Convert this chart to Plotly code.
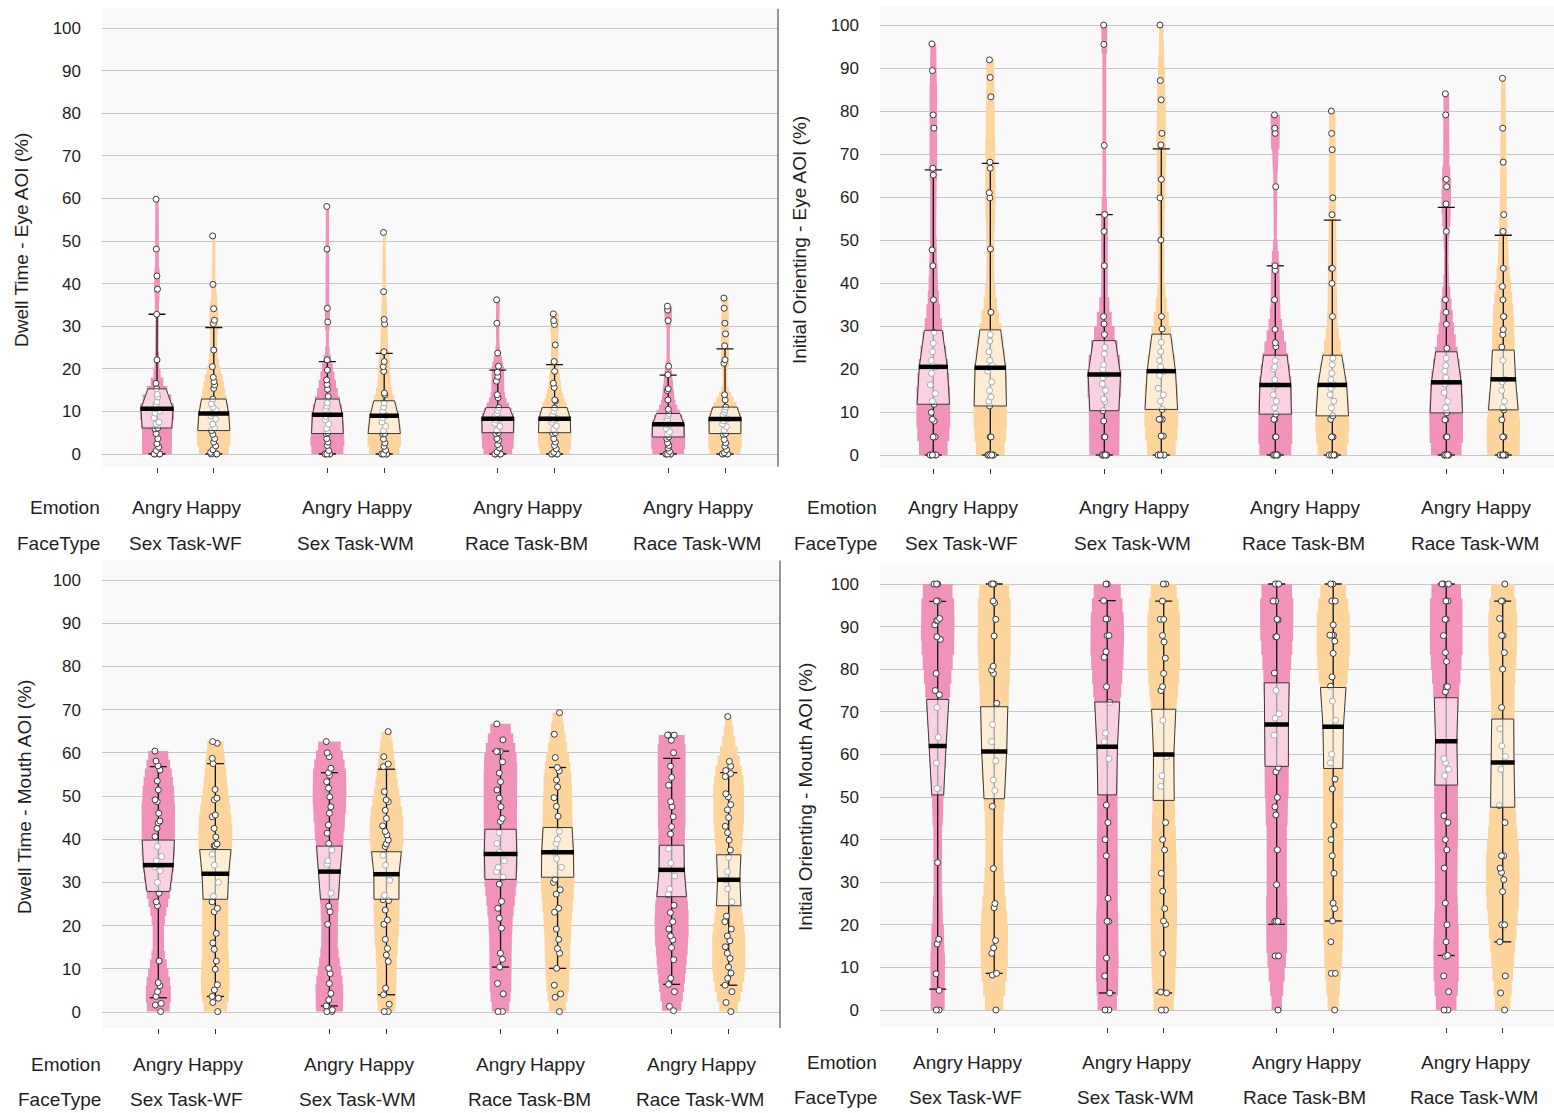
import numpy as np
import plotly.graph_objects as go

W, H = 1554, 1113

EMOTIONS = ["Angry", "Happy"]
FACE_TYPES = ["Sex Task-WF", "Sex Task-WM", "Race Task-BM", "Race Task-WM"]

# ---------------- Dwell Time - Eye AOI (%) ----------------
dwell_eye_angry_sex_wf = [59.8, 48.1, 41.8, 38.7, 32.8, 22.1, 16.6, 15.3, 14.0, 13.4, 12.2, 11.5, 10.8, 10.6, 10.2,
                          9.6, 8.5, 7.5, 7.0, 6.1, 5.9, 4.8, 3.6, 2.4, 1.6, 0.8, 0, 0, 0, 0]
dwell_eye_happy_sex_wf = [51.2, 39.8, 34.1, 31.4, 30.6, 24.4, 20.5, 18.0, 17.0, 16.2, 15.4, 12.9, 11.8, 11.0, 10.2,
                          9.5, 9.0, 8.2, 7.0, 6.2, 5.5, 4.6, 3.6, 2.8, 1.9, 1.0, 0.4, 0, 0, 0]
dwell_eye_angry_sex_wm = [58.1, 48.1, 34.2, 31.0, 22.1, 19.7, 17.4, 16.3, 15.2, 13.5, 12.0, 11.2, 10.5, 9.6, 9.2,
                          8.8, 8.0, 7.0, 6.0, 5.0, 4.8, 3.6, 2.8, 2.0, 0.8, 0, 0, 0, 0, 0]
dwell_eye_happy_sex_wm = [52.0, 38.1, 31.6, 30.5, 24.0, 21.7, 20.5, 19.4, 14.3, 13.9, 12.0, 11.0, 10.0, 9.3, 9.0,
                          8.5, 7.5, 6.5, 5.5, 4.8, 4.7, 3.5, 2.6, 1.8, 0.9, 0, 0, 0, 0, 0]
dwell_eye_angry_race_bm = [36.2, 30.7, 23.7, 20.6, 19.2, 18.2, 17.1, 13.9, 13.2, 10.9, 10.2, 9.5, 9.0, 8.5, 8.3,
                           8.0, 7.2, 6.5, 5.5, 5.0, 4.8, 3.6, 3.2, 2.2, 1.4, 0.5, 0, 0, 0, 0]
dwell_eye_happy_race_bm = [32.9, 31.3, 30.4, 25.6, 21.7, 19.4, 16.6, 15.6, 12.7, 12.5, 10.8, 10.0, 9.2, 8.6, 8.3,
                           8.0, 7.4, 6.6, 5.8, 5.0, 4.8, 3.6, 2.8, 2.0, 1.2, 0.4, 0, 0, 0, 0]
dwell_eye_angry_race_wm = [34.7, 33.8, 31.3, 20.6, 18.6, 15.3, 14.9, 12.7, 10.5, 9.5, 9.0, 8.2, 7.6, 7.2, 7.0,
                           6.8, 6.0, 5.2, 4.6, 4.0, 3.6, 2.6, 2.0, 1.4, 0.6, 0, 0, 0, 0, 0]
dwell_eye_happy_race_wm = [36.6, 34.2, 30.7, 28.2, 25.4, 22.1, 21.3, 13.9, 12.7, 11.0, 10.4, 9.8, 9.2, 8.6, 8.2,
                           7.8, 7.0, 6.4, 5.6, 4.8, 4.6, 3.4, 2.6, 1.8, 1.0, 0.3, 0, 0, 0, 0]

dwell_eye_q1 = [6.1, 5.5, 4.8, 4.8, 5.0, 5.0, 4.0, 4.8]
dwell_eye_median = [10.6, 9.5, 9.2, 9.0, 8.3, 8.3, 7.0, 8.2]
dwell_eye_q3 = [15.3, 12.9, 12.9, 12.5, 10.9, 10.9, 9.5, 11.0]
dwell_eye_whisker_lo = [0, 0, 0, 0, 0, 0, 0, 0]
dwell_eye_whisker_hi = [32.8, 29.7, 21.7, 23.6, 19.7, 21.0, 18.5, 24.7]

# ---------------- Initial Orienting - Eye AOI (%) ----------------
io_eye_angry_sex_wf = [95.6, 89.4, 79.1, 76.0, 66.7, 65.1, 47.7, 44.0, 36.1, 28.5, 26.0, 24.0, 22.0, 20.8, 20.5,
                       19.0, 16.3, 14.3, 12.5, 11.8, 9.9, 8.3, 7.9, 4.2, 4.2, 0, 0, 0, 0, 0]
io_eye_happy_sex_wf = [91.9, 87.8, 83.3, 68.1, 66.7, 61.0, 59.8, 47.9, 33.2, 28.0, 26.5, 24.0, 22.0, 20.8, 20.3,
                       19.5, 17.0, 15.0, 13.5, 12.5, 11.4, 4.2, 4.2, 0, 0, 0, 0, 0, 0]
io_eye_angry_sex_wm = [100, 95.5, 72.0, 55.9, 52.0, 44.0, 32.2, 30.5, 28.0, 25.0, 23.5, 21.0, 20.0, 19.0, 18.7,
                       18.0, 16.5, 15.0, 13.0, 12.5, 10.3, 7.9, 4.2, 4.2, 0, 0, 0, 0, 0, 0]
io_eye_happy_sex_wm = [100, 87.1, 82.6, 74.8, 72.1, 64.1, 59.8, 50.0, 32.2, 29.3, 26.2, 24.0, 22.0, 20.5, 19.5,
                       18.5, 15.5, 14.0, 12.5, 10.6, 8.3, 8.3, 8.3, 4.4, 4.4, 0, 0, 0, 0, 0]
io_eye_angry_race_bm = [79.1, 76.0, 74.8, 62.4, 44.0, 42.9, 36.1, 29.2, 26.1, 25.2, 22.0, 20.5, 20.0, 17.5, 16.3,
                        16.0, 14.0, 12.5, 11.0, 9.5, 8.3, 8.3, 4.2, 4.2, 0, 0, 0, 0, 0, 0]
io_eye_happy_race_bm = [80.0, 74.8, 71.0, 59.8, 55.9, 43.4, 43.4, 39.9, 32.2, 22.5, 21.0, 19.0, 17.5, 16.5, 16.3,
                        15.5, 14.0, 12.5, 11.0, 9.1, 8.3, 4.2, 4.2, 4.2, 0, 0, 0, 0, 0, 0]
io_eye_angry_race_wm = [84.0, 79.1, 64.1, 62.4, 58.4, 52.0, 36.1, 33.2, 30.4, 24.8, 22.5, 20.8, 19.5, 18.0, 16.9,
                        16.5, 14.5, 12.5, 11.0, 9.8, 8.2, 8.2, 4.2, 4.2, 0, 0, 0, 0, 0, 0]
io_eye_happy_race_wm = [87.6, 76.0, 68.1, 55.9, 52.0, 43.4, 39.2, 36.1, 32.2, 32.2, 29.2, 28.0, 25.1, 22.0, 17.6,
                        17.0, 15.0, 12.5, 11.0, 10.5, 8.2, 4.2, 4.2, 0, 0, 0, 0, 0, 0, 0]

io_eye_q1 = [11.8, 11.4, 10.3, 10.6, 9.5, 9.1, 9.8, 10.5]
io_eye_median = [20.5, 20.3, 18.7, 19.5, 16.3, 16.3, 16.9, 17.6]
io_eye_q3 = [29.0, 29.1, 26.6, 28.1, 23.2, 23.2, 24.0, 24.4]
io_eye_whisker_lo = [0, 0, 0, 0, 0, 0, 0, 0]
io_eye_whisker_hi = [66.3, 67.8, 55.9, 71.2, 44.0, 54.6, 57.6, 51.1]

# ---------------- Dwell Time - Mouth AOI (%) ----------------
dwell_mouth_angry_sex_wf = [60.4, 58.1, 57.0, 56.0, 53.5, 51.4, 49.1, 48.7, 46.0, 44.2, 43.8, 42.5, 40.6, 38.3, 36.0,
                            35.0, 33.6, 32.7, 30.0, 27.5, 25.5, 24.6, 11.8, 6.8, 6.1, 4.7, 3.6, 2.0, 1.6, 0.1]
dwell_mouth_happy_sex_wf = [62.6, 62.2, 58.7, 57.5, 51.5, 49.5, 49.1, 45.6, 45.2, 42.5, 40.5, 38.9, 38.5, 38.5, 36.5,
                            34.0, 30.0, 26.8, 25.5, 24.0, 23.2, 18.2, 16.0, 14.5, 11.8, 9.9, 6.3, 5.1, 3.6, 3.2,
                            2.2, 0.1]
dwell_mouth_angry_sex_wm = [62.6, 60.0, 59.1, 56.4, 55.4, 54.8, 53.3, 51.8, 49.8, 47.5, 46.0, 43.3, 41.4, 39.0, 37.5,
                            35.0, 34.2, 27.5, 24.5, 23.2, 20.3, 10.1, 8.9, 6.6, 4.3, 2.8, 1.4, 0.5, 0.1, 0.1]
dwell_mouth_happy_sex_wm = [64.9, 59.1, 57.4, 56.8, 51.0, 49.1, 48.7, 46.7, 44.8, 43.1, 41.8, 41.0, 39.8, 38.9, 38.3,
                            36.3, 34.0, 30.5, 27.0, 26.0, 25.8, 23.6, 21.3, 20.3, 16.8, 14.7, 13.2, 11.7, 5.5, 4.0,
                            1.8, 0.1, 0.1]
dwell_mouth_angry_race_bm = [66.7, 63.0, 60.3, 60.3, 60.3, 57.9, 55.3, 53.3, 51.4, 49.5, 47.5, 44.8, 44.1, 41.5, 39.0,
                             37.0, 35.0, 33.5, 32.5, 31.2, 29.6, 25.6, 24.0, 21.7, 19.4, 13.6, 12.2, 10.4, 6.6, 4.2,
                             0.1, 0.1]
dwell_mouth_happy_race_bm = [69.3, 64.3, 58.9, 56.6, 55.8, 53.7, 52.1, 49.6, 47.6, 45.3, 41.8, 40.0, 39.0, 37.0, 35.5,
                             33.5, 30.7, 30.0, 28.3, 27.3, 24.0, 23.1, 19.2, 16.8, 14.7, 13.6, 10.1, 6.2, 4.2, 3.4,
                             0.1]
dwell_mouth_angry_race_wm = [64.1, 64.1, 64.1, 62.9, 60.0, 56.9, 54.3, 52.5, 48.7, 47.5, 45.2, 42.9, 41.2, 37.8, 34.5,
                             31.5, 28.5, 27.2, 24.7, 23.0, 20.9, 19.2, 17.6, 16.7, 14.9, 12.1, 7.8, 6.4, 4.7, 1.3,
                             0.3]
dwell_mouth_happy_race_wm = [68.4, 58.0, 56.9, 55.9, 55.2, 54.5, 50.5, 49.8, 48.0, 46.8, 45.0, 43.0, 41.5, 39.8, 37.5,
                             35.8, 32.5, 30.6, 28.5, 25.5, 22.2, 20.9, 19.2, 17.6, 16.5, 15.1, 13.6, 12.4, 10.4, 9.0,
                             7.8, 6.2, 4.7, 2.2, 0.1]

dwell_mouth_q1 = [27.9, 26.1, 26.1, 26.1, 30.7, 31.2, 26.7, 24.6]
dwell_mouth_median = [34.0, 32.0, 32.5, 31.9, 36.6, 37.0, 32.9, 30.6]
dwell_mouth_q3 = [39.8, 37.6, 38.4, 37.1, 42.3, 42.7, 38.6, 36.4]
dwell_mouth_whisker_lo = [3.3, 3.6, 1.4, 4.0, 10.4, 10.1, 6.4, 6.2]
dwell_mouth_whisker_hi = [56.8, 57.5, 55.4, 56.2, 60.4, 56.6, 58.7, 55.4]

# ---------------- Initial Orienting - Mouth AOI (%) ----------------
io_mouth_angry_sex_wf = [100, 100, 100, 96.0, 96.0, 91.9, 91.5, 91.4, 90.4, 87.6, 87.0, 79.0, 75.0, 74.0, 71.0,
                         64.0, 58.0, 52.0, 52.0, 34.6, 16.6, 15.5, 8.5, 4.6, 0, 0]
io_mouth_happy_sex_wf = [100, 100, 100, 96.0, 95.6, 91.7, 87.8, 80.7, 79.8, 79.0, 72.0, 67.0, 63.0, 58.5, 54.0,
                         51.5, 47.8, 33.2, 25.0, 24.0, 16.3, 14.6, 13.3, 8.6, 8.2, 0]
io_mouth_angry_sex_wm = [100, 100, 96.1, 91.8, 91.8, 87.9, 87.9, 84.1, 82.8, 75.9, 72.2, 65.0, 63.0, 59.0, 48.1,
                         44.0, 40.0, 36.2, 26.2, 20.8, 20.8, 12.2, 8.0, 4.0, 0, 0]
io_mouth_happy_sex_wm = [100, 100, 96.0, 91.7, 91.7, 87.9, 86.4, 82.6, 79.0, 75.9, 75.0, 68.0, 59.5, 55.0, 52.5,
                         44.0, 40.0, 37.6, 32.1, 27.9, 23.8, 20.9, 20.1, 13.3, 4.2, 4.0, 0, 0]
io_mouth_angry_race_bm = [100, 100, 100, 96.0, 96.0, 91.7, 91.6, 87.6, 87.6, 79.1, 75.0, 69.5, 68.5, 64.5, 56.9,
                          55.9, 49.9, 47.7, 45.8, 37.6, 29.4, 20.8, 20.8, 20.8, 12.7, 12.7, 0]
io_mouth_happy_race_bm = [100, 100, 96.0, 96.0, 90.4, 88.0, 88.0, 88.0, 86.6, 83.7, 78.2, 76.0, 72.5, 68.0, 60.0,
                          58.0, 54.2, 51.9, 43.3, 40.0, 36.2, 32.1, 25.1, 23.8, 20.9, 16.0, 8.6, 8.6, 0]
io_mouth_angry_race_wm = [100, 100, 100, 96.0, 96.0, 91.7, 91.7, 87.9, 83.9, 81.8, 75.9, 75.9, 74.7, 59.0, 58.0,
                          56.5, 55.0, 45.6, 44.0, 40.0, 37.6, 33.3, 25.1, 20.0, 16.0, 12.8, 12.6, 8.0, 4.3, 0, 0]
io_mouth_happy_race_wm = [100, 96.0, 96.0, 91.9, 87.9, 87.9, 83.9, 80.0, 71.0, 66.0, 62.0, 59.5, 56.5, 48.0, 44.0,
                          36.2, 36.2, 33.3, 32.3, 30.6, 27.8, 20.0, 20.0, 16.0, 8.0, 4.0, 0]

io_mouth_q1 = [50.5, 49.6, 50.5, 49.2, 57.2, 56.7, 52.8, 47.6]
io_mouth_median = [62.0, 60.7, 61.8, 60.0, 67.0, 66.5, 63.1, 58.1]
io_mouth_q3 = [72.9, 71.2, 72.3, 70.6, 76.8, 75.7, 73.3, 68.3]
io_mouth_whisker_lo = [4.9, 8.6, 4.0, 4.0, 20.1, 20.9, 12.8, 16.0]
io_mouth_whisker_hi = [95.9, 100, 96.1, 96.0, 100, 100, 100, 96.0]

Y_TICKS = list(range(0, 101, 10))

# ---------------- styling ----------------
FONT = "Liberation Sans, Arial, sans-serif"
TEXT = "#1e1e1e"
VIOLIN_COLORS = {"Angry": "#F092BA", "Happy": "#FCD49C"}
BOX_FILL = "rgba(255,255,255,0.58)"
BOX_LINE = "#3a3a3a"
HALF_WIDTH = 0.3      # max half-width of a violin, in category units
CAP_HALF = 0.15
BW_FACTOR = 0.6       # fraction of Silverman's bandwidth

panels = [
    dict(groups=[dwell_eye_angry_sex_wf, dwell_eye_happy_sex_wf, dwell_eye_angry_sex_wm, dwell_eye_happy_sex_wm,
                 dwell_eye_angry_race_bm, dwell_eye_happy_race_bm, dwell_eye_angry_race_wm, dwell_eye_happy_race_wm],
         q1=dwell_eye_q1, med=dwell_eye_median, q3=dwell_eye_q3,
         wlo=dwell_eye_whisker_lo, whi=dwell_eye_whisker_hi,
         title="Dwell Time - Eye AOI (%)", title_xy=(22, 240),
         px=(102, 778), first=157.0, unit=56.8, py0=454, pys=4.26, yr=(-3.0, 104.5),
         rows=(508, 543), label_right=102, border=True, axisline=False),
    dict(groups=[io_eye_angry_sex_wf, io_eye_happy_sex_wf, io_eye_angry_sex_wm, io_eye_happy_sex_wm,
                 io_eye_angry_race_bm, io_eye_happy_race_bm, io_eye_angry_race_wm, io_eye_happy_race_wm],
         q1=io_eye_q1, med=io_eye_median, q3=io_eye_q3,
         wlo=io_eye_whisker_lo, whi=io_eye_whisker_hi,
         title="Initial Orienting - Eye AOI (%)", title_xy=(800, 240),
         px=(880, 1554), first=933.3, unit=57.0, py0=455, pys=4.30, yr=(-3.0, 104.5),
         rows=(508, 543), label_right=879, border=False, axisline=False),
    dict(groups=[dwell_mouth_angry_sex_wf, dwell_mouth_happy_sex_wf, dwell_mouth_angry_sex_wm,
                 dwell_mouth_happy_sex_wm, dwell_mouth_angry_race_bm, dwell_mouth_happy_race_bm,
                 dwell_mouth_angry_race_wm, dwell_mouth_happy_race_wm],
         q1=dwell_mouth_q1, med=dwell_mouth_median, q3=dwell_mouth_q3,
         wlo=dwell_mouth_whisker_lo, whi=dwell_mouth_whisker_hi,
         title="Dwell Time - Mouth AOI (%)", title_xy=(24, 797),
         px=(102, 780), first=158.3, unit=57.04, py0=1012, pys=4.32, yr=(-3.7, 104.5),
         rows=(1064, 1099), label_right=103, border=True, axisline=True),
    dict(groups=[io_mouth_angry_sex_wf, io_mouth_happy_sex_wf, io_mouth_angry_sex_wm, io_mouth_happy_sex_wm,
                 io_mouth_angry_race_bm, io_mouth_happy_race_bm, io_mouth_angry_race_wm, io_mouth_happy_race_wm],
         q1=io_mouth_q1, med=io_mouth_median, q3=io_mouth_q3,
         wlo=io_mouth_whisker_lo, whi=io_mouth_whisker_hi,
         title="Initial Orienting - Mouth AOI (%)", title_xy=(805, 797),
         px=(880, 1554), first=937.7, unit=56.5, py0=1010, pys=4.26, yr=(-3.9, 104.5),
         rows=(1062, 1097), label_right=879, border=False, axisline=True),
]


def bandwidth(vals):
    v = np.asarray(vals, float)
    q75, q25 = np.percentile(v, [75, 25])
    s = min(v.std(ddof=1), (q75 - q25) / 1.349)
    return BW_FACTOR * 1.059 * s * len(v) ** (-0.2)


def kde(vals, y, h):
    v = np.asarray(vals, float)
    y = np.atleast_1d(np.asarray(y, float))
    return np.exp(-0.5 * ((y[:, None] - v[None, :]) / h) ** 2).sum(axis=1)


def violin_shape(vals, x0, nbins=30):
    """Stepped density outline spanning the data range, plus a width lookup."""
    lo, hi = float(min(vals)), float(max(vals))
    h = bandwidth(vals)
    edges = np.linspace(lo, hi, nbins + 1)
    centers = 0.5 * (edges[:-1] + edges[1:])
    dens = kde(vals, centers, h)
    scale = HALF_WIDTH / dens.max()
    w = np.maximum(dens * scale, 0.025)
    ys = np.repeat(edges, 2)[1:-1]
    ws = np.repeat(w, 2)
    xs = np.concatenate([x0 + ws, (x0 - ws)[::-1]])
    yy = np.concatenate([ys, ys[::-1]])

    def width_at(q):
        return float(kde(vals, q, h)[0] * scale)

    return xs, yy, width_at


fig = go.Figure()
layout = dict(
    width=W, height=H, margin=dict(l=0, r=0, t=0, b=0),
    paper_bgcolor="white", plot_bgcolor="#F9F9F9",
    showlegend=False, boxmode="overlay",
    font=dict(family=FONT, color=TEXT),
)
annotations = []
shapes = []

for k, p in enumerate(panels):
    n = k + 1
    xa = "x" if n == 1 else f"x{n}"
    ya = "y" if n == 1 else f"y{n}"
    xkey = "xaxis" if n == 1 else f"xaxis{n}"
    ykey = "yaxis" if n == 1 else f"yaxis{n}"

    x_lo = -(p["first"] - p["px"][0]) / p["unit"]
    x_hi = (p["px"][1] - p["first"]) / p["unit"]
    bottom_px = p["py0"] - p["pys"] * p["yr"][0]
    top_px = p["py0"] - p["pys"] * p["yr"][1]

    positions = [3 * g + e for g in range(len(FACE_TYPES)) for e in range(len(EMOTIONS))]

    layout[xkey] = dict(
        domain=[p["px"][0] / W, p["px"][1] / W], range=[x_lo, x_hi], anchor=ya,
        tickmode="array", tickvals=positions, ticktext=[""] * len(positions),
        ticks="outside", ticklen=5, tickcolor="#333", tickwidth=1,
        showgrid=False, zeroline=False, showline=p["axisline"], linecolor="#333", linewidth=1,
        fixedrange=True,
    )
    layout[ykey] = dict(
        domain=[1 - bottom_px / H, 1 - top_px / H], range=list(p["yr"]), anchor=xa,
        tickmode="array", tickvals=Y_TICKS, ticks="", showgrid=True,
        gridcolor="#C6C6C6", gridwidth=1, zeroline=False, showline=False,
        tickfont=dict(size=17, color=TEXT, family=FONT), ticklabelstandoff=20,
        fixedrange=True,
    )

    for i, vals in enumerate(p["groups"]):
        x0 = positions[i]
        emo = EMOTIONS[i % 2]
        xs, ys, width_at = violin_shape(vals, x0)

        # violin body
        fig.add_trace(go.Scatter(
            x=xs, y=ys, mode="lines", fill="toself", fillcolor=VIOLIN_COLORS[emo],
            line=dict(width=0), hoverinfo="skip", xaxis=xa, yaxis=ya, zorder=0))

        # whisker line + caps
        lo_w, hi_w = p["wlo"][i], p["whi"][i]
        fig.add_trace(go.Scatter(
            x=[x0, x0, None, x0 - CAP_HALF, x0 + CAP_HALF, None, x0 - CAP_HALF, x0 + CAP_HALF],
            y=[lo_w, hi_w, None, hi_w, hi_w, None, lo_w, lo_w],
            mode="lines", line=dict(color="#111", width=1.3), hoverinfo="skip",
            xaxis=xa, yaxis=ya, zorder=1))

        # individual observations (jittered by the box trace)
        fig.add_trace(go.Box(
            x=[x0] * len(vals), y=vals, boxpoints="all", jitter=0.64, pointpos=0, width=0.25,
            fillcolor="rgba(0,0,0,0)", line=dict(width=0, color="rgba(0,0,0,0)"),
            marker=dict(size=6, color="white", line=dict(width=1, color="#3a3a3a")),
            hoverinfo="skip", xaxis=xa, yaxis=ya, zorder=2))

        # quantile box following the violin outline
        q1, md, q3 = p["q1"][i], p["med"][i], p["q3"][i]
        w1, wm, w3 = (max(0.95 * width_at(q), 0.06) for q in (q1, md, q3))
        fig.add_trace(go.Scatter(
            x=[x0 - w3, x0 + w3, x0 + wm, x0 + w1, x0 - w1, x0 - wm, x0 - w3],
            y=[q3, q3, md, q1, q1, md, q3],
            mode="lines", fill="toself", fillcolor=BOX_FILL,
            line=dict(color=BOX_LINE, width=1), hoverinfo="skip",
            xaxis=xa, yaxis=ya, zorder=3))

        # median bar
        fig.add_trace(go.Scatter(
            x=[x0 - wm - 0.01, x0 + wm + 0.01], y=[md, md], mode="lines",
            line=dict(color="black", width=4.5), hoverinfo="skip",
            xaxis=xa, yaxis=ya, zorder=4))

    # y-axis title
    tx, ty = p["title_xy"]
    annotations.append(dict(
        text=p["title"], x=tx / W, y=1 - ty / H, xref="paper", yref="paper",
        textangle=-90, showarrow=False, xanchor="center", yanchor="middle",
        font=dict(size=19, color=TEXT, family=FONT)))

    # nested category labels
    r_emo, r_face = p["rows"]
    for label, row in (("Emotion", r_emo), ("FaceType", r_face)):
        annotations.append(dict(
            text=label, x=p["label_right"] / W, y=1 - row / H, xref="paper", yref="paper",
            showarrow=False, xanchor="right", yanchor="middle",
            font=dict(size=19, color=TEXT, family=FONT)))
    for i, x0 in enumerate(positions):
        annotations.append(dict(
            text=EMOTIONS[i % 2], x=x0, y=1 - r_emo / H, xref=xa, yref="paper",
            showarrow=False, xanchor="center", yanchor="middle",
            font=dict(size=19, color=TEXT, family=FONT)))
    for g, face in enumerate(FACE_TYPES):
        annotations.append(dict(
            text=face, x=3 * g + 0.5, y=1 - r_face / H, xref=xa, yref="paper",
            showarrow=False, xanchor="center", yanchor="middle",
            font=dict(size=19, color=TEXT, family=FONT)))

    if p["border"]:
        shapes.append(dict(type="line", xref=f"{xa} domain", yref=f"{ya} domain",
                           x0=1, x1=1, y0=0, y1=1, line=dict(color="#333", width=1)))

layout["annotations"] = annotations
layout["shapes"] = shapes
fig.update_layout(**layout)

fig.write_html("out.html")
